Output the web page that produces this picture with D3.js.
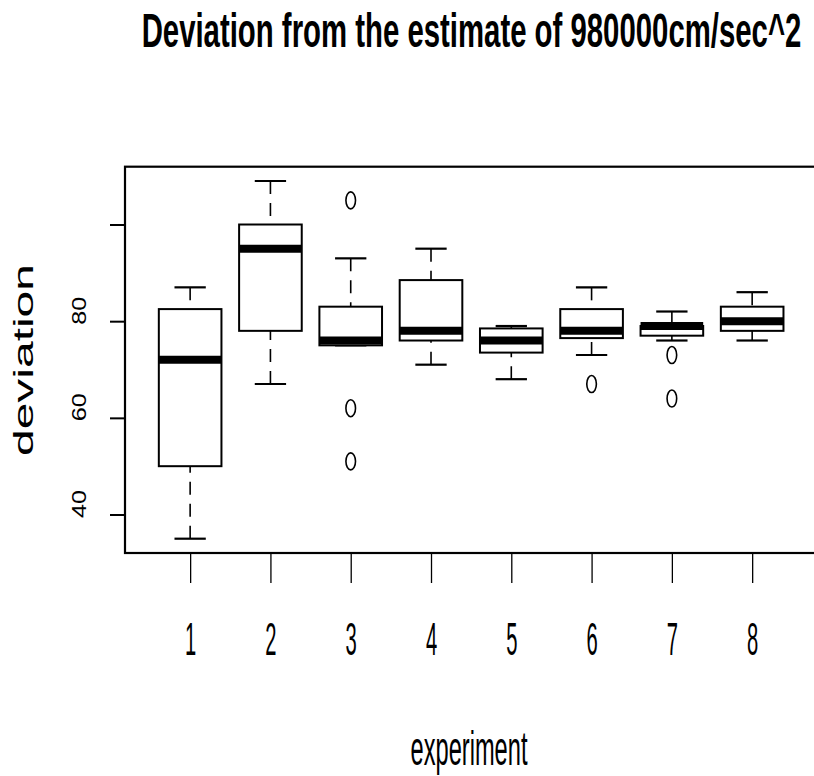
<!DOCTYPE html>
<meta charset="utf-8">
<style>
body {
    margin: 0px;
    background: white;
    font-family: "Liberation Sans", Arial, sans-serif;
}
svg text { fill: black; font-family: "Liberation Sans", Arial, sans-serif; }
</style>
<body>
<script src="https://d3js.org/d3.v7.min.js"></script>
<script>
var width = 814,
    height = 776

var experiments = ["1", "2", "3", "4", "5", "6", "7", "8"]
var whiskerLow  = [35, 67, 75, 71, 68, 73, 76, 76]
var hingeLow    = [50, 78, 75, 76, 73.5, 76.5, 77, 78]
var medians     = [72, 95, 76, 78, 76, 78, 79, 80]
var hingeHigh   = [82.5, 100, 83, 88.5, 78.5, 82.5, 79, 83]
var whiskerHigh = [87, 109, 93, 95, 79, 87, 82, 86]
var outlierGroup = [3, 3, 3, 6, 7, 7]
var outlierValue = [105, 62, 51, 67, 73, 64]
var yTicks = [40, 60, 80, 100]
var yLabels = [40, 60, 80]

var boxes = experiments.map(function(e, i) {
    return { x: i + 1, lo: whiskerLow[i], q1: hingeLow[i], med: medians[i], q3: hingeHigh[i], hi: whiskerHigh[i] }
})
var outliers = outlierGroup.map(function(g, i) { return { x: g, v: outlierValue[i] } })

var plot = { left: 125, top: 166.7, bottom: 553 }

var x = d3.scaleLinear()
    .domain([0.18, 8.82])
    .range([124.3, 818])

var y = d3.scaleLinear()
    .domain([32.04, 111.96])
    .range([plot.bottom, plot.top])

var svg = d3.select("body").append("svg")
    .attr("width", width)
    .attr("height", height)

// squeeze/stretch a text along its baseline to a target length
function fitLength(sel, target) {
    var len = sel.node().getComputedTextLength()
    return target / len
}

// boxes
var unit = x(2) - x(1)
var half = 0.39 * unit

var g = svg.selectAll(".box")
    .data(boxes)
    .enter().append("g")
    .attr("class", "box")

// whiskers, drawn from the end toward the box so the dash starts at the staple
g.append("line")
    .attr("x1", function(d) { return x(d.x) }).attr("x2", function(d) { return x(d.x) })
    .attr("y1", function(d) { return y(d.lo) }).attr("y2", function(d) { return y(d.q1) })
    .attr("stroke", "black").attr("stroke-width", 1.6).attr("stroke-dasharray", "13,9")
g.append("line")
    .attr("x1", function(d) { return x(d.x) }).attr("x2", function(d) { return x(d.x) })
    .attr("y1", function(d) { return y(d.hi) }).attr("y2", function(d) { return y(d.q3) })
    .attr("stroke", "black").attr("stroke-width", 1.6).attr("stroke-dasharray", "13,9")

// staples
g.selectAll(".staple")
    .data(function(d) { return [{ x: d.x, v: d.lo }, { x: d.x, v: d.hi }] })
    .enter().append("line")
    .attr("x1", function(d) { return x(d.x) - half / 2 })
    .attr("x2", function(d) { return x(d.x) + half / 2 })
    .attr("y1", function(d) { return y(d.v) }).attr("y2", function(d) { return y(d.v) })
    .attr("stroke", "black").attr("stroke-width", 2.2)

g.append("rect")
    .attr("x", function(d) { return x(d.x) - half })
    .attr("width", 2 * half)
    .attr("y", function(d) { return y(d.q3) })
    .attr("height", function(d) { return y(d.q1) - y(d.q3) })
    .attr("fill", "white")
    .attr("stroke", "black")
    .attr("stroke-width", 2)

g.append("line")
    .attr("x1", function(d) { return x(d.x) - half })
    .attr("x2", function(d) { return x(d.x) + half })
    .attr("y1", function(d) { return y(d.med) }).attr("y2", function(d) { return y(d.med) })
    .attr("stroke", "black").attr("stroke-width", 8)

// outliers
svg.selectAll(".out")
    .data(outliers)
    .enter().append("ellipse")
    .attr("cx", function(d) { return x(d.x) })
    .attr("cy", function(d) { return y(d.v) })
    .attr("rx", 4.8)
    .attr("ry", 8.5)
    .attr("fill", "none")
    .attr("stroke", "black")
    .attr("stroke-width", 1.6)

// frame
svg.append("rect")
    .attr("x", plot.left)
    .attr("y", plot.top)
    .attr("width", 720)
    .attr("height", plot.bottom - plot.top)
    .attr("fill", "none")
    .attr("stroke", "black")
    .attr("stroke-width", 2.2)

// y axis (ticks from d3, labels drawn below)
var yAxis = svg.append("g")
    .attr("transform", "translate(" + plot.left + ",0)")
    .call(d3.axisLeft(y).tickValues(yTicks).tickSize(15).tickFormat(""))
yAxis.select(".domain").remove()
yAxis.selectAll("line").attr("stroke", "black").attr("stroke-width", 2)

svg.selectAll(".ylab")
    .data(yLabels)
    .enter().append("text")
    .attr("class", "ylab")
    .attr("text-anchor", "middle")
    .attr("font-size", 21)
    .text(function(d) { return d })
    .each(function(d) {
        var t = d3.select(this)
        var s = fitLength(t, 28)
        t.attr("transform", "translate(85.5," + (y(d) - 10.5) + ") rotate(-90) scale(" + s + ",1)")
    })

// x axis
var xAxis = svg.append("g")
    .attr("transform", "translate(0," + plot.bottom + ")")
    .call(d3.axisBottom(x).tickValues(d3.range(1, experiments.length + 1)).tickSize(30)
        .tickFormat(function(d) { return experiments[d - 1] }))
xAxis.attr("font-size", 47).attr("font-family", null)
xAxis.select(".domain").remove()
xAxis.selectAll("line").attr("stroke", "black").attr("stroke-width", 1.3)
xAxis.selectAll("text")
    .attr("y", 0).attr("dy", null)
    .attr("font-size", 47)
    .attr("transform", "translate(0,102) scale(0.43,1)")

// title
var title = svg.append("text")
    .attr("text-anchor", "middle")
    .attr("font-size", 47.5)
    .attr("font-weight", "bold")
    .text("Deviation from the estimate of 980000cm/sec^2")
var ts = fitLength(title, 660)
title.attr("transform", "translate(471.5,47) scale(" + ts + ",1)")

// axis titles
var xl = svg.append("text")
    .attr("text-anchor", "middle")
    .attr("font-size", 48)
    .text("experiment")
var xs = fitLength(xl, 117)
xl.attr("transform", "translate(469,765) scale(" + xs + ",1)")

var yl = svg.append("text")
    .attr("text-anchor", "middle")
    .attr("font-size", 27.5)
    .text("deviation")
var ys = fitLength(yl, 192)
yl.attr("transform", "translate(33,360) rotate(-90) scale(" + ys + ",1)")
</script>
